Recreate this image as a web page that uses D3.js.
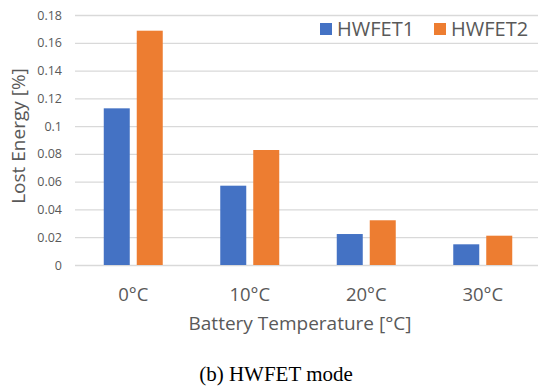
<!DOCTYPE html>
<html>
<head>
<meta charset="utf-8">
<script src="https://cdn.jsdelivr.net/npm/d3@7"></script>
<style>
  body { margin: 0; background: #fff; }
  svg { display: block; }
</style>
</head>
<body>
<div id="hook-chart"></div>
<script>
'use strict';

// data
var categories = ['0°C', '10°C', '20°C', '30°C'];
var seriesNames = ['HWFET1', 'HWFET2'];
var hwfet1 = [0.1128, 0.0571, 0.0223, 0.0149];
var hwfet2 = [0.1687, 0.0828, 0.0322, 0.0211];
var yTicks = [0, 0.02, 0.04, 0.06, 0.08, 0.1, 0.12, 0.14, 0.16, 0.18];
var yTickLabels = ['0', '0.02', '0.04', '0.06', '0.08', '0.1', '0.12', '0.14', '0.16', '0.18'];

var options = {
  width: 538,
  height: 386,
  left: 75,
  right: 541,
  top: 15,
  bottom: 265,
  colors: ['#4472c4', '#ed7d31'],
  grid: '#d9d9d9',
  text: '#595959',
  font: '"Open Sans", sans-serif'
};

function update(options) {
  var svg = d3.select('#hook-chart')
    .append('svg')
    .attr('width', options.width)
    .attr('height', options.height);

  var series = [hwfet1, hwfet2];

  var x0 = d3.scaleBand()
    .domain(categories)
    .range([options.left, options.right])
    .paddingInner(0.4936)
    .paddingOuter(0.2468);

  var x1 = d3.scaleBand()
    .domain(seriesNames)
    .range([0, x0.bandwidth()])
    .paddingInner(0.212);

  var y = d3.scaleLinear()
    .domain([0, 0.18])
    .range([options.bottom, options.top]);

  // gridlines + tick labels
  var yAxis = d3.axisLeft(y)
    .tickValues(yTicks)
    .tickFormat(function(d, i) { return yTickLabels[i]; })
    .tickSize(-(options.width - options.left))
    .tickPadding(13);

  var gy = svg.append('g')
    .attr('transform', 'translate(' + options.left + ',0)')
    .call(yAxis);
  gy.select('.domain').remove();
  gy.selectAll('.tick line')
    .attr('stroke', options.grid)
    .attr('stroke-width', 1.3);
  gy.selectAll('.tick text')
    .attr('fill', options.text)
    .style('font-family', options.font)
    .style('font-size', '12.5px');

  // bars
  var groups = svg.append('g')
    .selectAll('g')
    .data(categories)
    .join('g')
    .attr('transform', function(d) { return 'translate(' + x0(d) + ',0)'; });

  groups.selectAll('rect')
    .data(function(d, i) {
      return seriesNames.map(function(s, k) { return { key: s, k: k, value: series[k][i] }; });
    })
    .join('rect')
    .attr('x', function(d) { return x1(d.key); })
    .attr('y', function(d) { return y(d.value); })
    .attr('width', x1.bandwidth())
    .attr('height', function(d) { return y(0) - y(d.value); })
    .style('fill', function(d) { return options.colors[d.k]; });

  // x axis labels
  var xAxis = d3.axisBottom(x0).tickSize(0).tickPadding(23);
  var gx = svg.append('g')
    .attr('transform', 'translate(0,' + options.bottom + ')')
    .call(xAxis);
  gx.select('.domain').remove();
  gx.selectAll('.tick text')
    .attr('fill', options.text)
    .style('font-family', options.font)
    .style('font-size', '18.5px');

  // axis titles
  svg.append('text')
    .attr('x', (options.left + options.right) / 2 - 8)
    .attr('y', 330)
    .attr('text-anchor', 'middle')
    .attr('fill', options.text)
    .style('font-family', options.font)
    .style('font-size', '19px')
    .text('Battery Temperature [°C]');

  svg.append('text')
    .attr('transform', 'translate(25,136) rotate(-90)')
    .attr('text-anchor', 'middle')
    .attr('fill', options.text)
    .style('font-family', options.font)
    .style('font-size', '19px')
    .text('Lost Energy [%]');

  // legend
  var legendX = [320, 434];
  var legend = svg.append('g')
    .selectAll('g')
    .data(seriesNames)
    .join('g')
    .attr('transform', function(d, i) { return 'translate(' + legendX[i] + ',23)'; });

  legend.append('rect')
    .attr('width', 12)
    .attr('height', 12)
    .style('fill', function(d, i) { return options.colors[i]; });

  legend.append('text')
    .attr('x', 17)
    .attr('y', 12.5)
    .attr('fill', options.text)
    .style('font-family', options.font)
    .style('font-size', '20px')
    .text(function(d) { return d; });

  // caption
  svg.append('text')
    .attr('x', 276)
    .attr('y', 381)
    .attr('text-anchor', 'middle')
    .attr('fill', '#000')
    .style('font-family', '"Liberation Serif", "Times New Roman", serif')
    .style('font-size', '21px')
    .text('(b) HWFET mode');
}

update(options);
</script>
</body>
</html>
